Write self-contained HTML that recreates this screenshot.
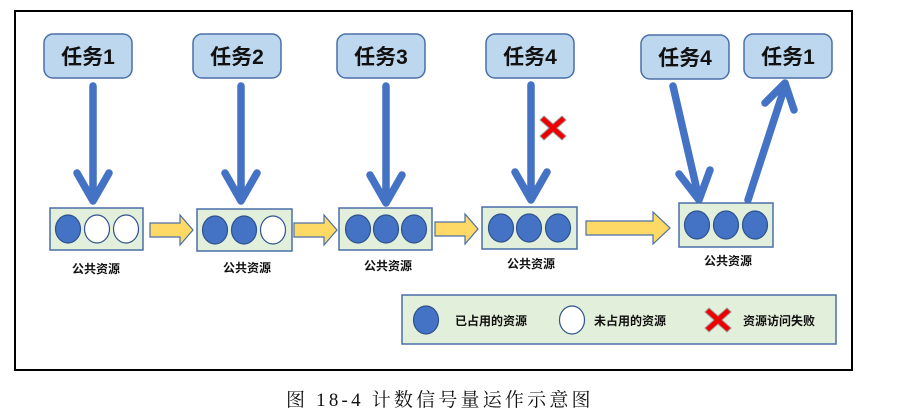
<!DOCTYPE html>
<html><head><meta charset="utf-8"><style>
body{margin:0;background:#fff;}
svg{display:block}
.t{font-family:"Liberation Sans","Noto Sans CJK SC",sans-serif;font-size:21px;font-weight:bold;fill:#111;text-anchor:middle}
.l{font-family:"Liberation Sans","Noto Sans CJK SC",sans-serif;font-size:12px;font-weight:bold;fill:#111;text-anchor:middle}
.g{font-family:"Liberation Sans","Noto Sans CJK SC",sans-serif;font-size:12px;font-weight:bold;fill:#111}
.c{font-family:"Liberation Serif","Noto Serif CJK SC",serif;font-size:19px;fill:#111;letter-spacing:3.2px}
</style></head><body>
<svg width="907" height="416" viewBox="0 0 907 416" xmlns="http://www.w3.org/2000/svg">
<defs>
<g id="task"><rect x="0" y="0" width="88" height="44" rx="9" fill="#bdd7ee" stroke="#4a6fa8" stroke-width="1.5"/></g>
<g id="xm"><path d="M-9,-12 L0,-4 L9,-12 L13,-8 L4,0 L13,8 L9,12 L0,4 L-9,12 L-13,8 L-4,0 L-13,-8 Z" fill="#e00" stroke="#999" stroke-width="1"/></g>
<g id="ya"><path d="M0,-7 L30,-7 L30,-15 L43,0 L30,15 L30,7 L0,7 Z" fill="#ffd966" stroke="#4a6fa8" stroke-width="1.2"/></g>
</defs>
<rect x="15" y="11" width="837" height="359" fill="none" stroke="#000" stroke-width="2"/>

<use href="#task" x="44" y="34"/><text class="t" x="88" y="64">任务1</text>
<use href="#task" x="193" y="34"/><text class="t" x="237" y="64">任务2</text>
<use href="#task" x="337" y="34"/><text class="t" x="381" y="64">任务3</text>
<use href="#task" x="486" y="34"/><text class="t" x="530" y="64">任务4</text>
<use href="#task" x="641" y="35"/><text class="t" x="685" y="65">任务4</text>
<use href="#task" x="744" y="34"/><text class="t" x="788" y="64">任务1</text>

<g stroke="#4472c4" stroke-width="7.5" fill="none" stroke-linecap="round" stroke-linejoin="round">
<path d="M93,86 V200 M77,173 L93,201 L109,173"/>
<path d="M241,86 V200 M225,173 L241,201 L257,173"/>
<path d="M386,86 V202 M370,175 L386,203 L402,175"/>
<path d="M531,85 V199 M515,172 L531,200 L547,172"/>
<path d="M673,86 L699,199 M679,174 L699,200 L710,170"/>
<path d="M748,200 L785,86 M765,103 L785,83 L794,110"/>
</g>
<use href="#xm" x="553" y="128"/>

<g stroke="#4a6fa8" stroke-width="1.5" fill="#e2efda">
<rect x="50" y="208" width="93" height="42"/>
<rect x="197" y="209" width="95" height="42"/>
<rect x="339" y="208" width="93" height="42"/>
<rect x="482" y="207" width="95" height="42"/>
<rect x="679" y="203" width="94" height="44"/>
</g>
<g stroke="#2f528f" stroke-width="1.2">
<ellipse cx="68" cy="229" rx="12.5" ry="14" fill="#4472c4"/>
<ellipse cx="97" cy="229" rx="12.5" ry="14" fill="#fff"/>
<ellipse cx="126" cy="229" rx="12.5" ry="14" fill="#fff"/>
<ellipse cx="215" cy="230" rx="12.5" ry="14" fill="#4472c4"/>
<ellipse cx="244" cy="230" rx="12.5" ry="14" fill="#4472c4"/>
<ellipse cx="273" cy="230" rx="12.5" ry="14" fill="#fff"/>
<ellipse cx="358" cy="229" rx="12.5" ry="14" fill="#4472c4"/>
<ellipse cx="386" cy="229" rx="12.5" ry="14" fill="#4472c4"/>
<ellipse cx="414" cy="229" rx="12.5" ry="14" fill="#4472c4"/>
<ellipse cx="501" cy="228" rx="12.5" ry="14" fill="#4472c4"/>
<ellipse cx="529" cy="228" rx="12.5" ry="14" fill="#4472c4"/>
<ellipse cx="558" cy="228" rx="12.5" ry="14" fill="#4472c4"/>
<ellipse cx="697" cy="225" rx="12.5" ry="14" fill="#4472c4"/>
<ellipse cx="726" cy="225" rx="12.5" ry="14" fill="#4472c4"/>
<ellipse cx="755" cy="225" rx="12.5" ry="14" fill="#4472c4"/>
</g>
<use href="#ya" x="150" y="230"/>
<use href="#ya" x="294" y="230"/>
<use href="#ya" x="435" y="229"/>
<path d="M586,221 L653,221 L653,212 L670,228 L653,244 L653,235 L586,235 Z" fill="#ffd966" stroke="#4a6fa8" stroke-width="1.2"/>

<text class="l" x="96" y="273">公共资源</text>
<text class="l" x="247" y="272">公共资源</text>
<text class="l" x="388" y="270">公共资源</text>
<text class="l" x="531" y="268">公共资源</text>
<text class="l" x="728" y="265">公共资源</text>

<rect x="402" y="295" width="434" height="49" fill="#e2efda" stroke="#4a6fa8" stroke-width="1.5"/>
<ellipse cx="426" cy="320" rx="12.5" ry="14" fill="#4472c4" stroke="#2f528f" stroke-width="1.2"/>
<text class="g" x="455" y="325">已占用的资源</text>
<ellipse cx="572" cy="320" rx="12.5" ry="14" fill="#fff" stroke="#2f528f" stroke-width="1.2"/>
<text class="g" x="594" y="325">未占用的资源</text>
<use href="#xm" x="718" y="320"/>
<text class="g" x="743" y="325">资源访问失败</text>

<text class="c" x="286" y="406">图 18-4 计数信号量运作示意图</text>
</svg>
</body></html>
